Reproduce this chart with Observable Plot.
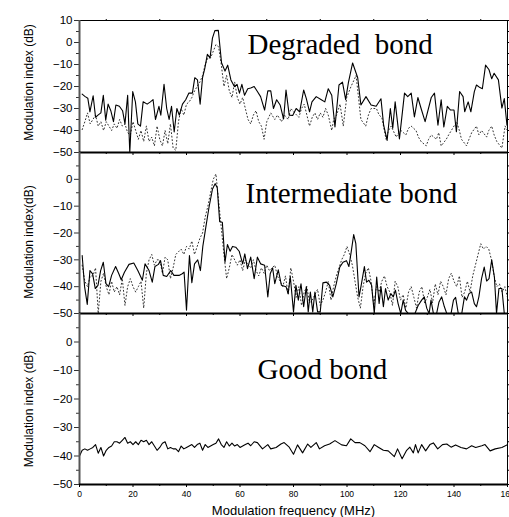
<!DOCTYPE html>
<html>
<head>
<meta charset="utf-8">
<script src="https://cdn.jsdelivr.net/npm/d3@7"></script>
<script src="https://cdn.jsdelivr.net/npm/@observablehq/plot@0.6"></script>
<style>
  html, body { margin: 0; padding: 0; background: white; }
  #chart { position: relative; width: 509px; height: 517px; overflow: hidden; background: white; }
  #chart svg { position: absolute; left: 0; top: 0; }
</style>
</head>
<body>
<div id="chart"></div>
<script>
// ---- Data (frequency MHz, modulation index dB) ----
const degradedSolid = [[1,-23.5],[2,-24.5],[3.1,-25.3],[3.9,-31.5],[5.1,-24.2],[6,-34],[6.9,-33],[8,-32],[8.9,-24],[9.8,-35.3],[10.7,-28],[11.7,-31],[12.7,-36],[13.6,-28.4],[14.9,-29],[16.1,-31],[17,-37],[18,-24],[18.8,-50],[19.9,-22.3],[20.9,-27],[21.8,-37],[22.8,-38],[23.8,-26.9],[25.3,-28],[26.5,-27],[27.5,-26],[28.4,-35],[29.7,-29],[30.4,-33],[31.6,-19],[32.6,-30],[33.5,-35],[34.4,-29],[35.4,-40.7],[36.4,-30],[37.3,-33],[38.5,-28],[39.7,-26],[40.9,-23],[42.2,-23],[43.1,-16],[44.1,-17],[45.1,-28],[46,-16],[46.8,-12],[47.8,-5.4],[48.8,-7],[49.7,2],[50.6,5.4],[51.9,5.5],[53.1,-9.2],[54.4,-13],[55.4,-10.3],[56.6,-17],[57.9,-20],[58.9,-19],[59.8,-23],[60.7,-19],[61.7,-24],[62.9,-21],[64,-20.7],[65.3,-20],[66.5,-22.3],[67.7,-24.6],[69.2,-30.7],[70.4,-22],[71.5,-22],[72.5,-30],[73.7,-26],[75,-28.4],[76.3,-34.8],[77.2,-21.6],[78.4,-33],[79.7,-33.2],[81,-30],[82.3,-31.5],[83.8,-21.6],[84.8,-25.5],[86,-31.5],[86.9,-27],[88.5,-24.6],[90.4,-26],[91.7,-27],[93,-21],[94.3,-24],[95.5,-38.4],[97,-19.3],[98.3,-18],[99.5,-26],[100.5,-18.4],[102.1,-9.3],[104,-16],[105.2,-28.4],[107.1,-24.6],[109,-28.4],[110.9,-29],[112.7,-25.6],[113.7,-37.6],[115,-44.5],[116.2,-30],[117.1,-39],[118,-27],[119.6,-43.8],[121.5,-23],[122.7,-24.6],[124,-23],[125.2,-33.8],[126.5,-25],[127.7,-30],[129.2,-36],[131.5,-25],[132.7,-23],[134,-37.6],[135.2,-26],[136.2,-38.4],[137.5,-29],[138.7,-30.7],[140,-30.7],[140.9,-40.6],[142.1,-22.3],[143.4,-24.6],[144,-31.5],[145.3,-27],[146.3,-31.5],[147.6,-22.3],[148.4,-19.3],[149.7,-20.5],[150.6,-21],[151.8,-10.3],[153.1,-12.4],[154.1,-16.5],[155,-14],[156.6,-17],[157.9,-29.8],[158.8,-25.5],[159.8,-37.6],[160,-35]];

const degradedDotted = [[1,-39.6],[2,-36],[3,-32],[4,-37],[5,-35],[6,-33],[7,-38],[8,-36],[9,-40],[10,-36],[11,-38],[12,-40],[13,-37],[14,-39],[15,-35],[16,-38],[17,-37],[18,-41],[19,-42],[20,-36],[21,-40],[22,-44],[23,-40],[24,-45],[25,-38],[26,-45],[27,-43],[28,-47],[29,-38],[30,-44],[31,-47],[32,-40],[33,-46],[34,-37],[35,-48],[36,-49],[37,-36],[38,-30],[39,-33],[40,-28],[41,-27],[42,-25],[43,-22],[44,-20],[45,-18],[46,-15],[47,-10],[48,-7],[49,-7],[50,-4],[51,-1],[52,-2],[53,-10],[54,-20],[55,-15],[56,-22],[57,-25],[58,-18],[59,-25],[60,-28],[61,-25],[62,-30],[63,-35],[64,-37],[65,-33],[66,-31],[67,-36],[68,-38],[69,-44],[70,-36],[71.5,-32],[73,-35],[74,-33],[75.5,-36],[76.6,-33],[78,-35],[79,-30],[80.4,-32],[82,-34],[83,-30],[84,-28],[85,-33],[86,-38],[87,-34],[88,-32],[89,-35],[90,-32],[91,-34],[92,-30],[93,-33],[94.3,-40],[95,-35],[96.1,-33],[97.4,-28],[98.6,-38],[99.9,-25],[101.5,-20],[103.4,-15],[104.3,-25],[105.2,-35],[107,-38],[108,-33],[109,-30],[111,-30],[112,-33],[113,-34],[114.6,-44],[115.5,-40],[116.5,-38],[118.4,-43],[119.3,-41],[120.2,-40],[122,-42],[123,-39],[124,-38],[125.8,-40],[126.7,-43],[127.7,-45],[129.6,-47],[130.5,-44],[131.5,-42],[133.4,-44],[134.3,-41],[135.2,-47],[137.1,-44],[138,-42],[139,-40],[141,-36],[142,-40],[142.8,-44],[144.7,-47],[145.6,-44],[146.6,-41],[148.4,-38],[149.3,-42],[150.3,-40],[152.2,-43],[153,-40],[154.1,-38],[155,-42],[156,-45],[157.9,-48],[159.1,-38],[160,-40]];

const intermediateSolid = [[1,-28.4],[1.9,-40],[2.9,-46.6],[3.9,-34],[4.9,-35.2],[5.9,-40.7],[6.9,-39.5],[7.9,-34],[8.9,-30.9],[9.9,-38.9],[10.9,-40],[12,-35.8],[13.5,-32.5],[14.7,-35.2],[15.6,-37.4],[16.8,-34.6],[18.5,-31.7],[20.3,-31.2],[21.8,-34],[23.5,-37.6],[24.5,-31.5],[26,-34],[27.2,-38.3],[28.2,-32.5],[29.5,-31.7],[30.3,-30.3],[31.3,-35.8],[32.6,-36.2],[34.1,-34],[35.3,-35.8],[37.2,-35.8],[38.4,-35.2],[39.1,-34.6],[40,-48.8],[41.1,-28.4],[42,-38.5],[43,-31.5],[44.2,-30],[45.2,-34],[46.1,-25],[47.2,-18],[48.4,-10.5],[49.7,-3.7],[50.7,-1.6],[51.5,-3.1],[52.4,-15.8],[53.4,-16],[54.4,-30.9],[55.3,-24.3],[56.3,-26.8],[57.2,-25],[58.4,-25.3],[59.7,-26.8],[61,-31.5],[61.8,-27.8],[62.8,-33.3],[64,-29],[65.3,-37],[66.5,-29],[67.7,-31.5],[69.2,-32],[70.4,-43.8],[71.3,-35.2],[72.2,-33],[73,-38.9],[74.3,-33.7],[75.5,-39.5],[77.2,-40],[78,-42.6],[78.8,-36.2],[80,-49.4],[80.9,-39.5],[81.8,-45],[82.8,-38.9],[83.8,-47.5],[84.8,-40],[85.5,-49.4],[86.3,-42],[87.2,-49.4],[88,-42],[89,-49.4],[90,-49.4],[91,-38.6],[92.3,-38.3],[93.5,-39.5],[94.7,-43.8],[96,-38.9],[97.3,-32.7],[98.5,-30.9],[99.8,-30.3],[100.7,-32.5],[101.5,-27.5],[102.5,-20.6],[103.3,-24],[104.5,-43.8],[105.3,-39.5],[106.5,-32.5],[107.3,-38.3],[108.2,-37.6],[109.2,-39.5],[110.2,-50],[111.1,-36.4],[112,-46.3],[112.7,-40],[113.6,-47.5],[114.4,-40.7],[115.4,-45],[116.4,-42.6],[117.3,-43.8],[118.1,-41.3],[119.1,-46.3],[120.1,-50],[121,-45],[121.9,-48.8],[122.9,-50],[125.4,-50],[126.6,-47],[127.9,-45],[128.9,-43.8],[129.8,-48],[130.7,-50],[131.4,-45],[132.3,-50],[133.5,-50],[134.4,-45.7],[135.4,-43.8],[136.4,-47.5],[137.3,-50],[138.9,-50],[139.8,-45],[140.6,-44],[141.6,-50],[142.9,-50],[143.9,-43.8],[144.7,-45],[145.6,-42.6],[146.6,-42],[147.6,-46.3],[148.4,-47.5],[149.3,-43.8],[150.3,-37],[151.3,-32.7],[152.2,-37.9],[153.1,-37],[154.1,-30],[155.1,-36.4],[155.9,-50],[156.8,-40.7],[157.9,-40.7],[158.8,-50],[160,-50]];

const intermediateDotted = [[1,-32],[2,-38],[3,-40],[4,-36],[5,-36],[6,-33],[7,-50],[8,-38],[9,-35],[10,-40],[11,-43],[12,-38],[13,-42],[14,-40],[15,-43],[16,-37],[17,-47],[18,-40],[19,-37],[20,-40],[21,-42],[22,-40],[23,-38],[24,-48],[25,-35],[26,-30],[27,-28],[28,-32],[29,-30],[30,-30],[31,-35],[32,-29],[33,-30],[34,-37],[35,-33],[36,-28],[37,-27],[38,-26],[39,-28],[40,-25],[41,-26],[42,-23],[43,-28],[44,-25],[45,-22],[46,-20],[47,-14],[48,-10],[49,-5],[50,0],[51,2],[52,-8],[53,-18],[54,-28],[55,-37],[56,-33],[57,-28],[58,-30],[59,-32],[60,-30],[61,-34],[62,-30],[63,-32],[64,-33],[65,-30],[66,-34],[67,-36],[68,-33],[69,-35],[70,-32],[71,-34],[72,-33],[73,-32],[74,-36],[75,-38],[76,-40],[77,-36],[78,-43],[79,-33],[80,-38],[81,-44],[82,-40],[83,-47],[84,-42],[85,-40],[86,-46],[87,-45],[88,-43],[89,-41],[90,-47],[91,-45],[92,-42],[93,-38],[94,-45],[95,-40],[96,-36],[97,-33],[98,-30],[99,-28],[100,-25],[101,-28],[102,-32],[103,-38],[104,-44],[105,-48],[106,-40],[107,-35],[108,-33],[109,-38],[110,-47],[111,-40],[112,-42],[113,-38],[114,-36],[115,-40],[116,-42],[117,-47],[118,-38],[119,-40],[120,-45],[121,-43],[122,-48],[123,-42],[124,-40],[125,-44],[126,-48],[127,-42],[128,-40],[129,-46],[130,-44],[131,-41],[132,-46],[133,-39],[134,-43],[135,-38],[136,-40],[137,-43],[138,-37],[139,-35],[140,-38],[141,-40],[142,-36],[143,-44],[144,-42],[145,-38],[146,-42],[147,-36],[148,-32],[149,-28],[150,-24],[151,-26],[152,-25],[153,-26],[154,-30],[155,-36],[156,-40],[157,-39],[158,-42],[159,-40],[160,-44]];

const goodSolid = [[0,-40],[1,-38],[2,-37.5],[3,-38],[4,-37.5],[5,-37],[6,-36],[7,-39],[8,-37],[9,-40],[10,-38],[11,-37],[12,-36.5],[13,-35],[14,-35],[15,-35.5],[16,-34.5],[17,-33.5],[18,-35.5],[19,-35],[20,-36],[21,-35],[22,-36],[23,-34.5],[24,-35],[25,-34.5],[26,-36],[27,-35],[28,-36.5],[29,-38],[30,-37],[31,-35.5],[32,-35],[33,-37.5],[34,-37],[35,-37.5],[36,-37.5],[37,-38.5],[38,-36.5],[39,-37.5],[40,-37],[41,-36.5],[42,-36],[43,-37],[44,-36],[45,-35.5],[46,-38],[47,-36],[48,-37],[49,-36.5],[50,-36],[51,-35.5],[52,-34],[53,-36],[54,-37],[55,-35],[56,-36.5],[57,-35.5],[58,-36.5],[59,-36],[60,-37],[61,-36.5],[62,-36],[63,-35.5],[64,-36.4],[65.3,-35],[66.5,-35.3],[68.4,-37.5],[70.4,-36],[71.5,-37.5],[73.5,-37],[75.3,-35.8],[76.5,-35.3],[78.4,-36.9],[80,-39.4],[81.5,-36.1],[83.4,-38.9],[85.3,-35.8],[86.5,-37],[88.5,-35.3],[89.7,-37.5],[91.6,-36.4],[93.5,-35.8],[95.5,-34.6],[98,-36.1],[99.8,-36.4],[101.4,-34],[103,-35.3],[104.8,-35.3],[106.7,-36.4],[108.6,-38.5],[110.2,-36],[111.7,-36.9],[113.6,-38],[115.4,-38.2],[117.7,-40.2],[118.9,-37.5],[120.6,-41],[122.3,-38],[123.5,-36.9],[124.8,-38.9],[125.6,-36],[126.6,-38.9],[127.9,-36],[129.4,-38.2],[131,-36],[132.3,-35.4],[133.9,-37.5],[135.7,-36],[137.3,-35.8],[138.9,-36.9],[140.6,-36.1],[142.6,-37],[144.7,-37.5],[146.6,-36.4],[148.1,-37],[150.4,-36.4],[151.6,-36],[153.5,-38.2],[155.4,-37.5],[157.9,-37],[159.8,-36.1]];

// ---- Tick labels ----
const xMajor = [0, 20, 40, 60, 80, 100, 120, 140, 160];
const xMinor = [10, 30, 50, 70, 90, 110, 130, 150];
const yMajorTop = [10, 0, -10, -20, -30, -40, -50];
const yMajorLower = [0, -10, -20, -30, -40, -50];
const yMinor = [5, -5, -15, -25, -35, -45];

const panelTitles = ["Degraded\u00a0 bond", "Intermediate bond", "Good bond"];
const yTitles = ["Modulation index (dB)", "Modulation index(dB)", "Modulation index (dB)"];
const xTitle = "Modulation frequency (MHz)";

const W = 509, H = 517;
const sans = "'Liberation Sans', Arial, sans-serif";
const serif = "'Liberation Serif', 'Times New Roman', serif";

function panel({top, bottom, solid, dotted, yMajor, title, titleDx, titleDy, yTitle, yTitleDy, isBottom, isTop}) {
  const marks = [];
  if (dotted) marks.push(Plot.line(dotted, {x: d => d[0], y: d => d[1], stroke: "#333", strokeWidth: 1, strokeDasharray: "1,2.5", clip: true}));
  marks.push(Plot.line(solid, {x: d => d[0], y: d => d[1], stroke: "black", strokeWidth: 1.1, clip: true}));
  // y axis (left, outward ticks)
  marks.push(Plot.axisY(yMajor, {anchor: "left", tickSize: 5, tickPadding: 2, fontSize: 11.5, label: null, stroke: "#333"}));
  marks.push(Plot.axisY(yMinor, {anchor: "left", tickSize: 3, text: null, label: null, stroke: "#333"}));
  // right ticks
  marks.push(Plot.axisY(yMajor, {anchor: "right", tickSize: 4, text: null, label: null}));
  marks.push(Plot.axisY(yMinor, {anchor: "right", tickSize: 2, text: null, label: null}));
  // x ticks at panel bottom
  marks.push(Plot.axisX(xMajor, {anchor: "bottom", tickSize: 3, tickPadding: 3, fontSize: 8.5, text: isBottom ? undefined : null, label: null}));
  marks.push(Plot.axisX(xMinor, {anchor: "bottom", tickSize: 2, text: null, label: null}));
  if (isTop) {
    marks.push(Plot.axisX(xMinor, {anchor: "top", tickSize: 2, text: null, label: null}));
    marks.push(Plot.ruleY([10], {stroke: "black", strokeWidth: 1}));
  }
  // frame lines
  marks.push(Plot.ruleX([160], {stroke: "black", strokeWidth: 1}));
  marks.push(Plot.ruleX([0], {stroke: "#555", strokeWidth: 2}));
  marks.push(Plot.ruleY([-50], {stroke: "black", strokeWidth: 2}));
  // panel title
  marks.push(Plot.text([title], {frameAnchor: "top-left", dx: titleDx, dy: titleDy, text: d => d, textAnchor: "start", lineAnchor: "bottom", fontFamily: serif, fontSize: 29, fill: "black"}));
  // y title
  marks.push(Plot.text([yTitle], {frameAnchor: "left", dx: -50, dy: yTitleDy, rotate: -90, text: d => d, textAnchor: "middle", lineAnchor: "middle", fontFamily: sans, fontSize: 12, fill: "black"}));
  if (isBottom) {
    marks.push(Plot.text([xTitle], {frameAnchor: "bottom", dy: 30, text: d => d, textAnchor: "middle", lineAnchor: "bottom", fontFamily: sans, fontSize: 13, fill: "black"}));
  }
  return Plot.plot({
    width: W, height: H,
    marginLeft: 79, marginRight: 2, marginTop: top, marginBottom: H - bottom,
    style: {background: "transparent", fontFamily: sans, color: "black"},
    x: {domain: [0, 160]},
    y: {domain: [-50, 10]},
    marks
  });
}

const chart = document.getElementById("chart");
chart.append(panel({top: 20, bottom: 152, solid: degradedSolid, dotted: degradedDotted, yMajor: yMajorTop, title: panelTitles[0], titleDx: 168, titleDy: 33, yTitle: yTitles[0], yTitleDy: -4, isTop: true}));
chart.append(panel({top: 152, bottom: 313, solid: intermediateSolid, dotted: intermediateDotted, yMajor: yMajorLower, title: panelTitles[1], titleDx: 166, titleDy: 50, yTitle: yTitles[1], yTitleDy: 9}));
chart.append(panel({top: 313, bottom: 484, solid: goodSolid, dotted: null, yMajor: yMajorLower, title: panelTitles[2], titleDx: 178, titleDy: 65, yTitle: yTitles[2], yTitleDy: 10, isBottom: true}));
</script>
</body>
</html>
